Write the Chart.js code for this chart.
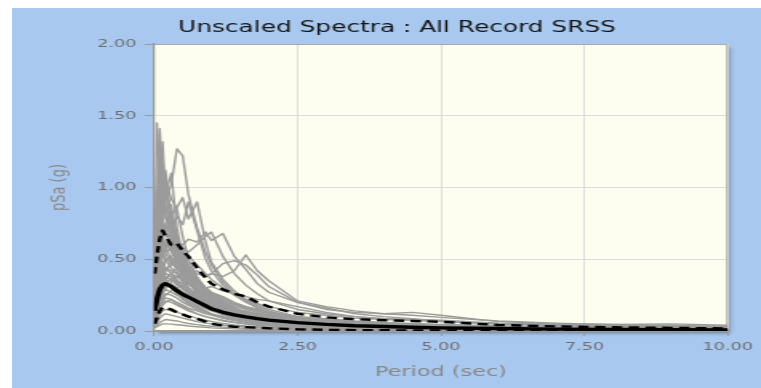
<!DOCTYPE html>
<html>
<head>
<meta charset="utf-8">
<script src="https://cdn.jsdelivr.net/npm/chart.js@4.4.1/dist/chart.umd.min.js"></script>
<style>
  html, body { margin: 0; padding: 0; background: #ffffff; overflow: hidden; }
  #wrap {
    position: absolute; left: 12px; top: 8px;
    width: 468px; height: 380px;
    transform: scaleX(1.6004); transform-origin: 0 0;
  }
  #c { display: block; width: 468px; height: 380px; background: #a8c8ef; }
</style>
</head>
<body>
<div id="wrap"><canvas id="c" width="468" height="380"></canvas></div>
<script>
// Spectral periods (sec) shared by every curve
const periods = [0.01, 0.05, 0.1, 0.15, 0.2, 0.3, 0.4, 0.5, 0.6, 0.75, 0.9, 1.0, 1.2, 1.4,
                 1.6, 1.8, 2.0, 2.5, 3.0, 3.5, 4.0, 4.5, 5.0, 6.0, 7.0, 8.0, 9.0, 10.0];

// Summary curves (g)
const medianSpectrum = [0.14, 0.22, 0.29, 0.32, 0.33, 0.31, 0.28, 0.255, 0.235, 0.205, 0.175, 0.155, 0.13, 0.112,
                        0.098, 0.086, 0.076, 0.058, 0.046, 0.037, 0.031, 0.026, 0.022, 0.017, 0.013, 0.011, 0.009, 0.008];
const upperSpectrum  = [0.40, 0.52, 0.64, 0.70, 0.66, 0.60, 0.61, 0.56, 0.52, 0.44, 0.37, 0.33, 0.29, 0.26,
                        0.24, 0.20, 0.17, 0.12, 0.095, 0.082, 0.075, 0.07, 0.064, 0.042, 0.032, 0.026, 0.022, 0.018];
const lowerSpectrum  = [0.05, 0.09, 0.14, 0.165, 0.16, 0.15, 0.13, 0.115, 0.10, 0.085, 0.065, 0.05, 0.038, 0.03,
                        0.027, 0.023, 0.019, 0.012, 0.008, 0.006, 0.005, 0.004, 0.004, 0.003, 0.002, 0.002, 0.002, 0.002];

// Individual record spectra, SRSS of both components (g)
const records = [
  [0.42, 1.45, 1.10, 0.95, 0.80, 0.62, 0.45, 0.38, 0.30, 0.22, 0.17, 0.15, 0.11, 0.09, 0.075, 0.06, 0.05, 0.035, 0.026, 0.02, 0.016, 0.013, 0.011, 0.008, 0.006, 0.005, 0.004, 0.004],
  [0.38, 0.85, 1.41, 1.05, 1.12, 0.78, 0.60, 0.46, 0.38, 0.30, 0.22, 0.19, 0.15, 0.12, 0.10, 0.085, 0.07, 0.05, 0.038, 0.03, 0.025, 0.021, 0.018, 0.013, 0.01, 0.008, 0.007, 0.006],
  [0.35, 0.70, 1.02, 1.32, 0.95, 1.10, 0.72, 0.52, 0.40, 0.31, 0.25, 0.22, 0.17, 0.13, 0.11, 0.09, 0.075, 0.055, 0.042, 0.033, 0.027, 0.022, 0.019, 0.014, 0.011, 0.009, 0.008, 0.007],
  [0.28, 0.45, 0.62, 0.80, 0.92, 1.02, 1.27, 1.22, 0.95, 0.72, 0.55, 0.46, 0.34, 0.26, 0.21, 0.17, 0.14, 0.09, 0.065, 0.05, 0.04, 0.033, 0.028, 0.02, 0.015, 0.012, 0.01, 0.009],
  [0.25, 0.42, 0.55, 0.68, 0.75, 0.80, 0.86, 0.93, 0.78, 0.90, 0.62, 0.48, 0.36, 0.28, 0.22, 0.18, 0.15, 0.10, 0.07, 0.055, 0.045, 0.037, 0.031, 0.022, 0.017, 0.013, 0.011, 0.01],
  [0.22, 0.35, 0.45, 0.52, 0.55, 0.58, 0.62, 0.60, 0.64, 0.62, 0.69, 0.63, 0.68, 0.52, 0.43, 0.33, 0.27, 0.20, 0.16, 0.12, 0.10, 0.085, 0.07, 0.05, 0.04, 0.032, 0.027, 0.023],
  [0.10, 0.15, 0.22, 0.28, 0.30, 0.34, 0.38, 0.36, 0.40, 0.42, 0.38, 0.40, 0.38, 0.42, 0.53, 0.42, 0.35, 0.21, 0.17, 0.14, 0.12, 0.11, 0.095, 0.07, 0.055, 0.045, 0.038, 0.033],
  [0.12, 0.18, 0.25, 0.30, 0.33, 0.36, 0.38, 0.40, 0.43, 0.40, 0.38, 0.40, 0.47, 0.49, 0.46, 0.39, 0.31, 0.20, 0.15, 0.13, 0.12, 0.13, 0.11, 0.065, 0.05, 0.045, 0.05, 0.04],
  [0.20, 0.40, 0.58, 0.66, 0.70, 0.72, 0.80, 0.74, 0.90, 0.70, 0.50, 0.42, 0.32, 0.25, 0.20, 0.16, 0.13, 0.09, 0.065, 0.05, 0.04, 0.034, 0.029, 0.021, 0.016, 0.013, 0.011, 0.01],
  [0.15, 0.28, 0.38, 0.46, 0.50, 0.52, 0.56, 0.58, 0.55, 0.60, 0.66, 0.69, 0.52, 0.40, 0.32, 0.26, 0.21, 0.15, 0.12, 0.10, 0.085, 0.075, 0.065, 0.048, 0.037, 0.03, 0.026, 0.022],
  [0.30, 0.62, 0.95, 1.18, 1.00, 0.82, 0.66, 0.50, 0.40, 0.30, 0.23, 0.20, 0.15, 0.12, 0.10, 0.08, 0.068, 0.048, 0.036, 0.028, 0.023, 0.019, 0.016, 0.012, 0.009, 0.007, 0.006, 0.005],
  [0.26, 0.50, 0.78, 0.90, 1.05, 0.92, 0.85, 0.66, 0.50, 0.38, 0.29, 0.25, 0.19, 0.15, 0.12, 0.10, 0.085, 0.06, 0.045, 0.035, 0.029, 0.024, 0.02, 0.015, 0.011, 0.009, 0.008, 0.007],
  [0.33, 0.75, 1.22, 0.98, 0.88, 0.70, 0.55, 0.42, 0.34, 0.26, 0.20, 0.17, 0.13, 0.10, 0.085, 0.07, 0.058, 0.04, 0.03, 0.024, 0.019, 0.016, 0.014, 0.01, 0.008, 0.006, 0.005, 0.005],
  [0.28, 0.58, 0.86, 1.02, 0.84, 0.88, 0.64, 0.58, 0.46, 0.35, 0.27, 0.23, 0.17, 0.14, 0.11, 0.09, 0.077, 0.055, 0.041, 0.032, 0.026, 0.022, 0.019, 0.014, 0.011, 0.009, 0.008, 0.007],
  [0.18, 0.30, 0.45, 0.55, 0.50, 0.44, 0.40, 0.34, 0.30, 0.25, 0.20, 0.18, 0.14, 0.12, 0.10, 0.085, 0.075, 0.055, 0.043, 0.035, 0.029, 0.025, 0.021, 0.016, 0.012, 0.01, 0.009, 0.008],
  [0.15, 0.25, 0.38, 0.42, 0.48, 0.52, 0.45, 0.42, 0.36, 0.30, 0.26, 0.22, 0.18, 0.15, 0.12, 0.10, 0.09, 0.07, 0.055, 0.045, 0.038, 0.032, 0.028, 0.021, 0.016, 0.013, 0.011, 0.01],
  [0.12, 0.22, 0.30, 0.36, 0.40, 0.38, 0.35, 0.33, 0.28, 0.24, 0.19, 0.17, 0.14, 0.115, 0.10, 0.088, 0.078, 0.06, 0.048, 0.04, 0.034, 0.029, 0.025, 0.019, 0.015, 0.012, 0.01, 0.009],
  [0.20, 0.34, 0.52, 0.62, 0.58, 0.50, 0.42, 0.36, 0.30, 0.24, 0.19, 0.16, 0.12, 0.10, 0.085, 0.072, 0.062, 0.045, 0.034, 0.027, 0.022, 0.018, 0.015, 0.011, 0.009, 0.007, 0.006, 0.005],
  [0.10, 0.16, 0.24, 0.28, 0.30, 0.33, 0.30, 0.27, 0.25, 0.22, 0.20, 0.18, 0.16, 0.14, 0.12, 0.105, 0.095, 0.075, 0.06, 0.05, 0.042, 0.036, 0.031, 0.024, 0.019, 0.015, 0.013, 0.011],
  [0.16, 0.28, 0.40, 0.48, 0.44, 0.40, 0.36, 0.30, 0.27, 0.21, 0.17, 0.15, 0.12, 0.098, 0.082, 0.07, 0.06, 0.044, 0.034, 0.027, 0.022, 0.018, 0.016, 0.012, 0.009, 0.007, 0.006, 0.005],
  [0.22, 0.40, 0.60, 0.72, 0.68, 0.58, 0.52, 0.44, 0.36, 0.28, 0.23, 0.20, 0.16, 0.13, 0.11, 0.092, 0.08, 0.058, 0.044, 0.035, 0.029, 0.024, 0.021, 0.016, 0.012, 0.01, 0.008, 0.007],
  [0.08, 0.14, 0.20, 0.24, 0.26, 0.25, 0.23, 0.20, 0.18, 0.15, 0.13, 0.12, 0.10, 0.085, 0.075, 0.066, 0.058, 0.044, 0.035, 0.028, 0.023, 0.02, 0.017, 0.013, 0.01, 0.008, 0.007, 0.006],
  [0.14, 0.26, 0.34, 0.40, 0.36, 0.30, 0.28, 0.24, 0.20, 0.17, 0.14, 0.12, 0.095, 0.078, 0.065, 0.055, 0.047, 0.034, 0.026, 0.02, 0.016, 0.014, 0.012, 0.009, 0.007, 0.006, 0.005, 0.004],
  [0.06, 0.10, 0.15, 0.18, 0.20, 0.22, 0.20, 0.18, 0.16, 0.14, 0.12, 0.11, 0.09, 0.075, 0.062, 0.053, 0.046, 0.034, 0.026, 0.021, 0.017, 0.014, 0.012, 0.009, 0.007, 0.005, 0.004, 0.004],
  [0.24, 0.46, 0.68, 0.62, 0.74, 0.66, 0.60, 0.50, 0.42, 0.34, 0.30, 0.27, 0.24, 0.20, 0.17, 0.15, 0.13, 0.10, 0.08, 0.065, 0.055, 0.048, 0.042, 0.032, 0.025, 0.02, 0.017, 0.015],
  [0.05, 0.08, 0.12, 0.14, 0.15, 0.14, 0.13, 0.12, 0.105, 0.09, 0.075, 0.066, 0.052, 0.042, 0.035, 0.03, 0.026, 0.019, 0.014, 0.011, 0.009, 0.008, 0.007, 0.005, 0.004, 0.003, 0.003, 0.002],
  [0.04, 0.06, 0.09, 0.11, 0.12, 0.11, 0.10, 0.09, 0.08, 0.065, 0.055, 0.05, 0.04, 0.033, 0.028, 0.024, 0.02, 0.015, 0.011, 0.009, 0.007, 0.006, 0.005, 0.004, 0.003, 0.002, 0.002, 0.002],
  [0.03, 0.04, 0.06, 0.07, 0.08, 0.075, 0.07, 0.06, 0.052, 0.044, 0.037, 0.033, 0.027, 0.022, 0.018, 0.015, 0.013, 0.009, 0.007, 0.005, 0.004, 0.004, 0.003, 0.002, 0.002, 0.002, 0.001, 0.001],
  [0.02, 0.03, 0.04, 0.05, 0.05, 0.048, 0.044, 0.04, 0.035, 0.03, 0.025, 0.022, 0.018, 0.015, 0.012, 0.01, 0.009, 0.006, 0.005, 0.004, 0.003, 0.003, 0.002, 0.002, 0.001, 0.001, 0.001, 0.001],
  [0.18, 0.32, 0.48, 0.56, 0.62, 0.55, 0.50, 0.46, 0.40, 0.33, 0.27, 0.24, 0.20, 0.17, 0.15, 0.13, 0.11, 0.082, 0.064, 0.052, 0.044, 0.037, 0.032, 0.024, 0.019, 0.015, 0.013, 0.011],
  [0.13, 0.24, 0.36, 0.34, 0.42, 0.46, 0.50, 0.44, 0.38, 0.33, 0.28, 0.25, 0.21, 0.18, 0.16, 0.14, 0.12, 0.09, 0.07, 0.057, 0.048, 0.04, 0.035, 0.026, 0.02, 0.016, 0.014, 0.012],
  [0.09, 0.17, 0.26, 0.30, 0.34, 0.30, 0.26, 0.22, 0.19, 0.16, 0.13, 0.115, 0.09, 0.074, 0.062, 0.053, 0.046, 0.033, 0.025, 0.02, 0.016, 0.013, 0.011, 0.008, 0.006, 0.005, 0.004, 0.004],
  [0.11, 0.20, 0.30, 0.38, 0.35, 0.36, 0.32, 0.30, 0.27, 0.23, 0.21, 0.19, 0.17, 0.15, 0.14, 0.12, 0.11, 0.09, 0.075, 0.064, 0.055, 0.048, 0.042, 0.032, 0.025, 0.021, 0.018, 0.016],
  [0.07, 0.12, 0.17, 0.21, 0.23, 0.22, 0.19, 0.17, 0.15, 0.12, 0.10, 0.09, 0.07, 0.058, 0.048, 0.04, 0.034, 0.025, 0.019, 0.015, 0.012, 0.01, 0.009, 0.007, 0.005, 0.004, 0.003, 0.003],
  [0.26, 0.52, 0.74, 0.88, 0.80, 0.70, 0.58, 0.48, 0.38, 0.29, 0.22, 0.19, 0.14, 0.11, 0.09, 0.076, 0.065, 0.046, 0.035, 0.028, 0.023, 0.019, 0.016, 0.012, 0.009, 0.007, 0.006, 0.005],
  [0.16, 0.30, 0.42, 0.52, 0.58, 0.64, 0.56, 0.48, 0.44, 0.36, 0.30, 0.27, 0.22, 0.19, 0.17, 0.15, 0.13, 0.10, 0.085, 0.07, 0.06, 0.052, 0.046, 0.036, 0.028, 0.023, 0.02, 0.017],
  [0.08, 0.12, 0.18, 0.22, 0.25, 0.28, 0.30, 0.32, 0.34, 0.33, 0.30, 0.31, 0.28, 0.26, 0.24, 0.22, 0.21, 0.17, 0.13, 0.10, 0.085, 0.08, 0.075, 0.055, 0.045, 0.038, 0.034, 0.03],
  [0.10, 0.16, 0.26, 0.32, 0.36, 0.40, 0.44, 0.48, 0.52, 0.46, 0.40, 0.36, 0.30, 0.25, 0.22, 0.19, 0.17, 0.13, 0.11, 0.09, 0.08, 0.075, 0.068, 0.05, 0.04, 0.034, 0.03, 0.027],
  [0.17, 0.33, 0.50, 0.58, 0.54, 0.47, 0.44, 0.40, 0.35, 0.29, 0.24, 0.21, 0.17, 0.14, 0.12, 0.10, 0.088, 0.064, 0.05, 0.04, 0.033, 0.028, 0.024, 0.018, 0.014, 0.011, 0.01, 0.009],
  [0.21, 0.38, 0.56, 0.66, 0.60, 0.64, 0.54, 0.46, 0.42, 0.34, 0.28, 0.25, 0.20, 0.16, 0.13, 0.11, 0.095, 0.07, 0.054, 0.043, 0.036, 0.03, 0.026, 0.02, 0.015, 0.012, 0.01, 0.009],
  [0.12, 0.20, 0.32, 0.40, 0.44, 0.42, 0.40, 0.38, 0.34, 0.30, 0.26, 0.23, 0.19, 0.16, 0.13, 0.11, 0.10, 0.075, 0.058, 0.047, 0.039, 0.033, 0.028, 0.021, 0.016, 0.013, 0.011, 0.01],
  [0.19, 0.36, 0.46, 0.54, 0.62, 0.56, 0.48, 0.40, 0.33, 0.27, 0.22, 0.19, 0.15, 0.12, 0.10, 0.085, 0.073, 0.053, 0.04, 0.032, 0.026, 0.022, 0.019, 0.014, 0.011, 0.009, 0.007, 0.006],
  [0.11, 0.19, 0.27, 0.33, 0.37, 0.40, 0.38, 0.35, 0.33, 0.28, 0.24, 0.21, 0.17, 0.14, 0.12, 0.10, 0.09, 0.068, 0.053, 0.043, 0.036, 0.031, 0.027, 0.02, 0.016, 0.013, 0.011, 0.01],
  [0.15, 0.27, 0.36, 0.44, 0.40, 0.38, 0.33, 0.29, 0.26, 0.22, 0.18, 0.16, 0.13, 0.11, 0.092, 0.078, 0.068, 0.05, 0.038, 0.03, 0.025, 0.021, 0.018, 0.013, 0.01, 0.008, 0.007, 0.006],
  [0.24, 0.44, 0.64, 0.76, 0.70, 0.62, 0.50, 0.43, 0.38, 0.31, 0.25, 0.22, 0.18, 0.145, 0.12, 0.10, 0.088, 0.063, 0.048, 0.038, 0.031, 0.026, 0.022, 0.017, 0.013, 0.01, 0.009, 0.008],
  [0.13, 0.22, 0.34, 0.38, 0.42, 0.48, 0.52, 0.46, 0.40, 0.35, 0.30, 0.27, 0.23, 0.19, 0.16, 0.14, 0.12, 0.088, 0.068, 0.055, 0.046, 0.039, 0.034, 0.026, 0.02, 0.016, 0.014, 0.012],
  [0.09, 0.15, 0.22, 0.26, 0.29, 0.27, 0.25, 0.23, 0.21, 0.18, 0.155, 0.14, 0.115, 0.095, 0.08, 0.068, 0.059, 0.044, 0.034, 0.027, 0.022, 0.019, 0.016, 0.012, 0.009, 0.007, 0.006, 0.005],
  [0.27, 0.55, 0.82, 0.74, 0.86, 0.78, 0.66, 0.56, 0.46, 0.37, 0.30, 0.26, 0.20, 0.16, 0.13, 0.11, 0.095, 0.068, 0.052, 0.042, 0.034, 0.029, 0.025, 0.019, 0.014, 0.011, 0.01, 0.009],
  [0.07, 0.11, 0.16, 0.19, 0.21, 0.20, 0.18, 0.16, 0.14, 0.12, 0.10, 0.092, 0.075, 0.062, 0.052, 0.045, 0.039, 0.029, 0.022, 0.018, 0.014, 0.012, 0.01, 0.008, 0.006, 0.005, 0.004, 0.003],
  [0.14, 0.24, 0.32, 0.36, 0.38, 0.36, 0.34, 0.31, 0.29, 0.26, 0.23, 0.21, 0.18, 0.155, 0.135, 0.12, 0.105, 0.08, 0.063, 0.051, 0.043, 0.037, 0.032, 0.024, 0.019, 0.015, 0.013, 0.011],
  [0.36, 0.98, 0.80, 1.12, 0.86, 0.74, 0.58, 0.46, 0.36, 0.27, 0.21, 0.18, 0.14, 0.11, 0.09, 0.075, 0.063, 0.045, 0.034, 0.027, 0.022, 0.018, 0.016, 0.012, 0.009, 0.007, 0.006, 0.005],
  [0.31, 0.66, 1.08, 0.84, 0.96, 0.76, 0.62, 0.54, 0.44, 0.34, 0.26, 0.22, 0.17, 0.14, 0.11, 0.095, 0.08, 0.058, 0.044, 0.035, 0.028, 0.024, 0.02, 0.015, 0.012, 0.009, 0.008, 0.007]
];

// Axis ranges and tick spacing
const xRange = [0, 10];
const yRange = [0, 2];
const xStep = 2.5;
const yStep = 0.5;

const chartTitle = 'Unscaled Spectra : All Record SRSS';
const xTitle = 'Period (sec)';
const yTitle = 'pSa (g)';

const FONT = '"DejaVu Sans", Verdana, sans-serif';

function toPoints(values) {
  return periods.map((p, i) => ({ x: p, y: values[i] }));
}

const datasets = [];
datasets.push({
  data: toPoints(medianSpectrum), borderColor: '#000000', borderWidth: 3.4,
  order: 0
});
datasets.push({
  data: toPoints(upperSpectrum), borderColor: '#000000', borderWidth: 2.4,
  borderDash: [6.5, 4], order: 1
});
datasets.push({
  data: toPoints(lowerSpectrum), borderColor: '#000000', borderWidth: 2.4,
  borderDash: [6.5, 4], order: 1
});
records.forEach(r => datasets.push({
  data: toPoints(r), borderColor: '#9b9b9b', borderWidth: 1.4, order: 2
}));

// Plot-area panel with a drop shadow, a framed border and the chart heading
const panelPlugin = {
  id: 'panel',
  beforeDraw(chart) {
    const { ctx, chartArea: a } = chart;
    ctx.save();
    ctx.shadowColor = 'rgba(70,70,70,0.55)';
    ctx.shadowBlur = 3;
    ctx.shadowOffsetX = 1.8;
    ctx.shadowOffsetY = 2.5;
    ctx.fillStyle = '#fefef0';
    ctx.fillRect(a.left, a.top, a.right - a.left, a.bottom - a.top);
    ctx.restore();

    ctx.save();
    ctx.font = '15.5px ' + FONT;
    ctx.fillStyle = '#151515';
    ctx.textAlign = 'center';
    ctx.textBaseline = 'alphabetic';
    ctx.fillText(chartTitle, 240.6, 23.5);
    ctx.restore();
  },
  beforeDatasetsDraw(chart) {
    const { ctx, chartArea: a } = chart;
    ctx.save();
    ctx.strokeStyle = '#a8a8a8';
    ctx.lineWidth = 1;
    ctx.beginPath();
    ctx.moveTo(a.left, a.top + 0.5);
    ctx.lineTo(a.right - 0.5, a.top + 0.5);
    ctx.lineTo(a.right - 0.5, a.bottom);
    ctx.stroke();
    ctx.restore();
  }
};

new Chart(document.getElementById('c'), {
  type: 'line',
  data: { datasets },
  plugins: [panelPlugin],
  options: {
    responsive: false,
    devicePixelRatio: 1,
    animation: false,
    events: [],
    layout: { padding: { left: 0, right: 19.25, top: 36, bottom: 0 } },
    elements: {
      point: { radius: 0 },
      line: { tension: 0, fill: false, borderCapStyle: 'butt', borderJoinStyle: 'round' }
    },
    plugins: { legend: { display: false }, tooltip: { enabled: false }, title: { display: false } },
    scales: {
      x: {
        type: 'linear', min: xRange[0], max: xRange[1],
        afterFit(s) { s.height = 57; },
        ticks: {
          stepSize: xStep, maxRotation: 0, autoSkip: false,
          callback: v => Number(v).toFixed(2),
          font: { family: FONT, size: 11 }, color: '#6e6e6e', padding: 5
        },
        grid: { color: '#dcdcdc', lineWidth: 1, tickLength: 5, tickColor: '#9a9a9a', tickWidth: 1 },
        border: { display: true, color: '#9a9a9a', width: 2 },
        title: {
          display: true, text: xTitle, color: '#888888',
          font: { family: FONT, size: 14 }, padding: { top: 0, bottom: 7.6 }
        }
      },
      y: {
        type: 'linear', min: yRange[0], max: yRange[1],
        afterFit(s) { s.width = 88.75; },
        ticks: {
          stepSize: yStep, autoSkip: false,
          callback: v => Number(v).toFixed(2),
          font: { family: FONT, size: 11 }, color: '#6e6e6e', padding: 5
        },
        grid: { color: '#dcdcdc', lineWidth: 1, tickLength: 6, tickColor: '#9a9a9a', tickWidth: 1 },
        border: { display: true, color: '#9a9a9a', width: 1.3 },
        title: {
          display: true, text: yTitle, color: '#888888',
          font: { family: FONT, size: 13 }, padding: { top: 22, bottom: 0 }
        }
      }
    }
  }
});
</script>
</body>
</html>
